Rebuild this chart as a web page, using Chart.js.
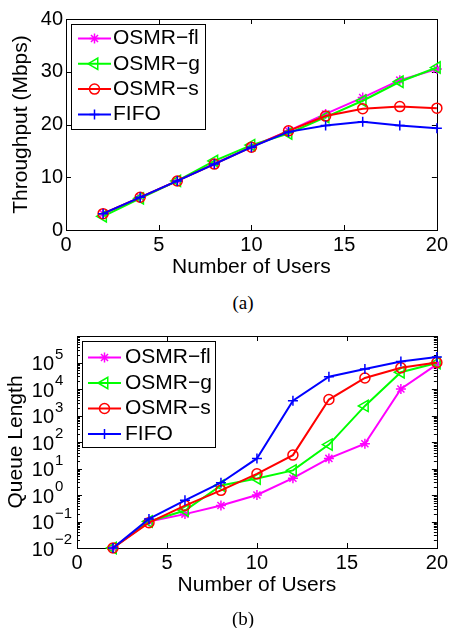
<!DOCTYPE html>
<html lang="en">
<head>
<meta charset="UTF-8" />
<title>Throughput and Queue Length vs Number of Users</title>
<style>
  body {
    margin: 0;
    background: #fff;
    width: 451px;
    height: 628px;
    position: relative;
    overflow: hidden;
  }
  .panel {
    position: absolute;
    left: 0;
  }
  .caption {
    position: absolute;
    left: 243px;
    transform: translateX(-50%);
    font-family: 'Liberation Serif', 'Times New Roman', serif;
    font-size: 19px;
    line-height: 22px;
    color: #000;
  }
</style>
</head>
<body>
  <canvas id="chartA" class="panel" width="451" height="290" style="top:0"></canvas>
  <div class="caption" style="top:292px">(a)</div>
  <canvas id="chartB" class="panel" width="451" height="290" style="top:320px"></canvas>
  <div class="caption" style="top:608px">(b)</div>

<script src="https://cdn.jsdelivr.net/npm/chart.js"></script>
<script>
  // values
  const users = [2, 4, 6, 8, 10, 12, 14, 16, 18, 20];
  const seriesNames = ['OSMR\u2212fl', 'OSMR\u2212g', 'OSMR\u2212s', 'FIFO'];

  const throughputFl   = [3.1, 6.2, 9.3, 12.6, 15.8, 18.8, 22.0, 25.1, 28.4, 30.5];
  const throughputG    = [2.6, 6.0, 9.3, 13.1, 16.1, 18.3, 21.4, 24.5, 28.1, 30.8];
  const throughputS    = [3.1, 6.2, 9.3, 12.5, 15.7, 18.8, 21.6, 23.0, 23.4, 23.1];
  const throughputFifo = [3.1, 6.2, 9.3, 12.5, 15.7, 18.6, 19.8, 20.5, 19.8, 19.3];

  const queueFl   = [0.01, 0.1, 0.19, 0.4, 1.0, 4.3, 24, 86, 1.0e4, 8.5e4];
  const queueG    = [0.01, 0.1, 0.26, 2.3, 4.2, 8.5, 80, 2300, 4.3e4, 9.5e4];
  const queueS    = [0.01, 0.09, 0.4, 1.5, 6.3, 32, 4000, 2.6e4, 6.3e4, 1.0e5];
  const queueFifo = [0.01, 0.125, 0.63, 2.9, 24, 3600, 2.9e4, 5.7e4, 1.1e5, 1.6e5];

  // tick labels
  const xTickValues = [0, 5, 10, 15, 20];
  const throughputTicks = [0, 10, 20, 30, 40];
  const queueExponents = [-2, -1, 0, 1, 2, 3, 4, 5];

  // matlab default-ish styling per series
  const seriesColors = ['#ff00ff', '#00ff00', '#ff0000', '#0000ff'];
  const seriesMarkers = ['star', 'triangle', 'circle', 'cross'];
  const markerRotation = [0, -90, 0, 0];
  const markerRadius = [5, 6.5, 5, 5];

  const FONT = "'Liberation Sans', Arial, Helvetica, sans-serif";
  Chart.defaults.font.family = FONT;
  Chart.defaults.color = '#000';

  function makeSets(values) {
    return seriesNames.map((name, i) => ({
      label: name,
      data: users.map((u, k) => ({ x: u, y: values[i][k] })),
      borderColor: seriesColors[i],
      backgroundColor: 'rgba(0,0,0,0)',
      borderWidth: 2,
      tension: 0,
      pointStyle: seriesMarkers[i],
      pointRotation: markerRotation[i],
      pointRadius: markerRadius[i],
      pointBorderWidth: 1.5,
      pointBorderColor: seriesColors[i],
      pointBackgroundColor: 'rgba(0,0,0,0)',
      clip: false,
      order: seriesNames.length - 1 - i   // FIFO plotted last => on top
    }));
  }

  // axes box with inward ticks, like a matlab figure
  const matlabBox = {
    id: 'matlabBox',
    beforeDatasetsDraw(chart, args, opts) {
      const { ctx, chartArea: a, scales } = chart;
      ctx.save();
      ctx.strokeStyle = '#000';
      ctx.lineWidth = 1;
      ctx.beginPath();
      xTickValues.forEach(v => {
        const px = Math.round(scales.x.getPixelForValue(v)) + 0.5;
        ctx.moveTo(px, a.bottom); ctx.lineTo(px, a.bottom - 5);
        ctx.moveTo(px, a.top); ctx.lineTo(px, a.top + 5);
      });
      (opts.yValues || []).forEach(v => {
        const py = Math.round(scales.y.getPixelForValue(v)) + 0.5;
        ctx.moveTo(a.left, py); ctx.lineTo(a.left + 5, py);
        ctx.moveTo(a.right, py); ctx.lineTo(a.right - 5, py);
      });
      (opts.minorValues || []).forEach(v => {
        const py = Math.round(scales.y.getPixelForValue(v)) + 0.5;
        ctx.moveTo(a.left, py); ctx.lineTo(a.left + 3, py);
        ctx.moveTo(a.right, py); ctx.lineTo(a.right - 3, py);
      });
      ctx.stroke();
      ctx.strokeRect(Math.round(a.left) + 0.5, Math.round(a.top) + 0.5,
        Math.round(a.right - a.left), Math.round(a.bottom - a.top));
      ctx.restore();
    }
  };

  // legend box drawn over the lines (coordinates are canvas-local)
  const matlabLegend = {
    id: 'matlabLegend',
    afterDatasetsDraw(chart, args, o) {
      const { ctx } = chart;
      ctx.save();
      ctx.fillStyle = '#fff';
      ctx.fillRect(o.x, o.y, o.w, o.h);
      ctx.strokeStyle = '#000';
      ctx.lineWidth = 1;
      ctx.strokeRect(o.x + 0.5, o.y + 0.5, o.w, o.h);
      chart.data.datasets.forEach((ds, i) => {
        const cy = o.y + o.rowTop + i * o.rowGap;
        ctx.strokeStyle = ds.borderColor;
        ctx.lineWidth = ds.borderWidth;
        ctx.beginPath();
        ctx.moveTo(o.x + o.line0, cy);
        ctx.lineTo(o.x + o.line1, cy);
        ctx.stroke();
        ctx.lineWidth = ds.pointBorderWidth;
        ctx.fillStyle = 'rgba(0,0,0,0)';
        Chart.helpers.drawPoint(ctx, {
          pointStyle: ds.pointStyle,
          rotation: ds.pointRotation,
          radius: ds.pointRadius,
          borderWidth: ds.pointBorderWidth
        }, o.x + (o.line0 + o.line1) / 2, cy);
        ctx.fillStyle = '#000';
        ctx.font = '21px ' + FONT;
        ctx.textAlign = 'left';
        ctx.textBaseline = 'middle';
        ctx.fillText(ds.label, o.x + o.textX, cy);
      });
      ctx.restore();
    }
  };

  // 10^n tick labels for the log axis
  const logLabels = {
    id: 'logLabels',
    afterDraw(chart, args, o) {
      if (!o.exponents) return;
      const { ctx } = chart;
      const y = chart.scales.y;
      ctx.save();
      ctx.fillStyle = '#000';
      ctx.textBaseline = 'middle';
      o.exponents.forEach(e => {
        const py = y.getPixelForValue(Math.pow(10, e));
        ctx.font = '20px ' + FONT;
        ctx.textAlign = 'right';
        ctx.fillText('10', o.right, py + 2);
        ctx.font = '15px ' + FONT;
        ctx.textAlign = 'left';
        ctx.fillText(String(e).replace('-', '\u2212'), o.right + 1, py - 8);
      });
      ctx.restore();
    }
  };

  function xAxis(height, titlePad) {
    return {
      type: 'linear', min: 0, max: 20,
      grid: { display: false, drawTicks: false },
      border: { display: false },
      ticks: { stepSize: 5, padding: 3, font: { size: 20 }, color: '#000' },
      title: { display: true, text: 'Number of Users', font: { size: 21 }, color: '#000',
               padding: { top: 0, bottom: titlePad } },
      afterFit(s) { s.height = height; }
    };
  }

  // (a) throughput
  new Chart(document.getElementById('chartA'), {
    type: 'line',
    data: { datasets: makeSets([throughputFl, throughputG, throughputS, throughputFifo]) },
    options: {
      responsive: false,
      animation: false,
      events: [],
      layout: { padding: { top: 19, right: 14, left: 0, bottom: 0 } },
      scales: {
        x: xAxis(60, 10),
        y: {
          min: 0, max: 40,
          grid: { display: false, drawTicks: false },
          border: { display: false },
          ticks: { stepSize: 10, padding: 3, font: { size: 20 }, color: '#000' },
          title: { display: true, text: 'Throughput (Mbps)', font: { size: 21 }, color: '#000',
                   padding: { top: 9, bottom: 0 } },
          afterFit(s) { s.width = 66; }
        }
      },
      plugins: {
        legend: { display: false },
        tooltip: { enabled: false },
        matlabBox: { yValues: throughputTicks },
        matlabLegend: { x: 71, y: 24, w: 134, h: 105, rowTop: 14.5, rowGap: 25.3,
                        line0: 7, line1: 40, textX: 42 }
      }
    },
    plugins: [matlabBox, matlabLegend]
  });

  // (b) queue length, log scale
  const minorQueue = [];
  queueExponents.forEach(e => {
    for (let k = 2; k <= 9; k++) minorQueue.push(k * Math.pow(10, e));
  });

  new Chart(document.getElementById('chartB'), {
    type: 'line',
    data: { datasets: makeSets([queueFl, queueG, queueS, queueFifo]) },
    options: {
      responsive: false,
      animation: false,
      events: [],
      layout: { padding: { top: 16, right: 14, left: 0, bottom: 0 } },
      scales: {
        x: xAxis(62, 12),
        y: {
          type: 'logarithmic', min: 1e-2, max: 1e6,
          grid: { display: false, drawTicks: false },
          border: { display: false },
          ticks: { display: false },
          title: { display: true, text: 'Queue Length', font: { size: 21 }, color: '#000',
                   padding: { top: 4, bottom: 0 } },
          afterFit(s) { s.width = 77; }
        }
      },
      plugins: {
        legend: { display: false },
        tooltip: { enabled: false },
        matlabBox: { yValues: queueExponents.concat([6]).map(e => Math.pow(10, e)), minorValues: minorQueue },
        matlabLegend: { x: 82, y: 21, w: 133, h: 106, rowTop: 16.5, rowGap: 25.5,
                        line0: 6, line1: 39, textX: 43 },
        logLabels: { exponents: queueExponents, right: 54 }
      }
    },
    plugins: [matlabBox, matlabLegend, logLabels]
  });
</script>
</body>
</html>
